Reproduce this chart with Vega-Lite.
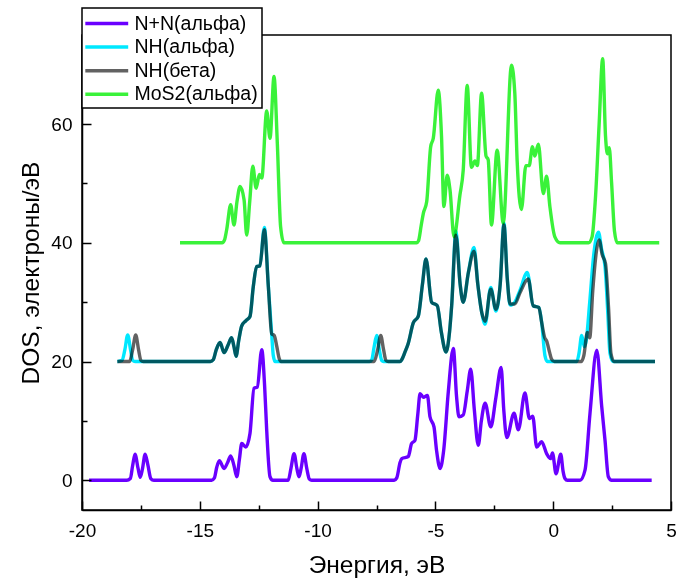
{
  "$schema": "https://vega.github.io/schema/vega-lite/v6.json",
  "width": 589,
  "height": 475,
  "autosize": {"type": "none"},
  "padding": {"left": 82, "top": 35, "right": 11, "bottom": 72},
  "background": "white",
  "config": {
    "view": {"stroke": "black", "strokeWidth": 1.5},
    "font": "Liberation Sans",
    "legend": {"strokeWidth": 1.5},
    "axis": {"domainColor": "black", "domainWidth": 1.5, "tickColor": "black", "tickWidth": 1.5, "grid": false, "labelFont": "Liberation Sans", "titleFont": "Liberation Sans", "labelColor": "black", "titleColor": "black", "titleFontWeight": "normal"}
  },
  "datasets": {
    "dos": [
      {"s":"N+N(альфа)","x":-19.7,"y":0},{"s":"N+N(альфа)","x":-18.1,"y":0},{"s":"N+N(альфа)","x":-17.95,"y":0.3},{"s":"N+N(альфа)","x":-17.85,"y":2.5},{"s":"N+N(альфа)","x":-17.75,"y":4.4},{"s":"N+N(альфа)","x":-17.62,"y":2.0},{"s":"N+N(альфа)","x":-17.53,"y":0.5},{"s":"N+N(альфа)","x":-17.43,"y":2.0},{"s":"N+N(альфа)","x":-17.32,"y":4.4},{"s":"N+N(альфа)","x":-17.2,"y":2.5},{"s":"N+N(альфа)","x":-17.08,"y":0.3},{"s":"N+N(альфа)","x":-16.95,"y":0},
      {"s":"N+N(альфа)","x":-14.5,"y":0},{"s":"N+N(альфа)","x":-14.38,"y":0.4},{"s":"N+N(альфа)","x":-14.28,"y":2.2},{"s":"N+N(альфа)","x":-14.17,"y":3.3},{"s":"N+N(альфа)","x":-13.97,"y":2.0},{"s":"N+N(альфа)","x":-13.82,"y":3.0},{"s":"N+N(альфа)","x":-13.69,"y":4.1},{"s":"N+N(альфа)","x":-13.55,"y":2.5},{"s":"N+N(альфа)","x":-13.43,"y":0.6},{"s":"N+N(альфа)","x":-13.32,"y":3.5},{"s":"N+N(альфа)","x":-13.22,"y":6.2},{"s":"N+N(альфа)","x":-13.05,"y":5.6},{"s":"N+N(альфа)","x":-12.87,"y":7.9},{"s":"N+N(альфа)","x":-12.7,"y":15.5},{"s":"N+N(альфа)","x":-12.56,"y":15.7},{"s":"N+N(альфа)","x":-12.37,"y":22.0},{"s":"N+N(альфа)","x":-12.25,"y":16},{"s":"N+N(альфа)","x":-12.16,"y":8.4},{"s":"N+N(альфа)","x":-12.02,"y":0.6},{"s":"N+N(альфа)","x":-11.9,"y":0},
      {"s":"N+N(альфа)","x":-11.25,"y":0},{"s":"N+N(альфа)","x":-11.13,"y":2.0},{"s":"N+N(альфа)","x":-11.0,"y":4.5},{"s":"N+N(альфа)","x":-10.88,"y":2.0},{"s":"N+N(альфа)","x":-10.79,"y":0.6},{"s":"N+N(альфа)","x":-10.7,"y":2.0},{"s":"N+N(альфа)","x":-10.58,"y":4.5},{"s":"N+N(альфа)","x":-10.46,"y":2.0},{"s":"N+N(альфа)","x":-10.35,"y":0.2},{"s":"N+N(альфа)","x":-10.25,"y":0},
      {"s":"N+N(альфа)","x":-6.75,"y":0},{"s":"N+N(альфа)","x":-6.64,"y":0.4},{"s":"N+N(альфа)","x":-6.5,"y":3.0},{"s":"N+N(альфа)","x":-6.43,"y":3.65},{"s":"N+N(альфа)","x":-6.15,"y":4.0},{"s":"N+N(альфа)","x":-6.01,"y":6.2},{"s":"N+N(альфа)","x":-5.87,"y":6.7},{"s":"N+N(альфа)","x":-5.75,"y":11},{"s":"N+N(альфа)","x":-5.65,"y":14.6},{"s":"N+N(альфа)","x":-5.51,"y":14.0},{"s":"N+N(альфа)","x":-5.34,"y":14.3},{"s":"N+N(альфа)","x":-5.23,"y":10.7},{"s":"N+N(альфа)","x":-5.06,"y":9.0},{"s":"N+N(альфа)","x":-4.95,"y":5},{"s":"N+N(альфа)","x":-4.8,"y":2.0},{"s":"N+N(альфа)","x":-4.65,"y":5},{"s":"N+N(альфа)","x":-4.45,"y":15},{"s":"N+N(альфа)","x":-4.24,"y":22.2},{"s":"N+N(альфа)","x":-4.1,"y":14},{"s":"N+N(альфа)","x":-4.0,"y":10.7},{"s":"N+N(альфа)","x":-3.82,"y":11.0},{"s":"N+N(альфа)","x":-3.65,"y":15},{"s":"N+N(альфа)","x":-3.5,"y":18.7},{"s":"N+N(альфа)","x":-3.35,"y":12},{"s":"N+N(альфа)","x":-3.18,"y":5.9},{"s":"N+N(альфа)","x":-3.05,"y":10},{"s":"N+N(альфа)","x":-2.89,"y":13.0},{"s":"N+N(альфа)","x":-2.65,"y":9.0},{"s":"N+N(альфа)","x":-2.43,"y":14.0},{"s":"N+N(альфа)","x":-2.21,"y":19.0},{"s":"N+N(альфа)","x":-2.1,"y":12},{"s":"N+N(альфа)","x":-1.97,"y":7.2},{"s":"N+N(альфа)","x":-1.66,"y":11.3},{"s":"N+N(альфа)","x":-1.48,"y":8.5},{"s":"N+N(альфа)","x":-1.2,"y":14.7},{"s":"N+N(альфа)","x":-1.01,"y":10.4},{"s":"N+N(альфа)","x":-0.87,"y":10.8},{"s":"N+N(альфа)","x":-0.7,"y":5.6},{"s":"N+N(альфа)","x":-0.49,"y":6.5},{"s":"N+N(альфа)","x":-0.28,"y":4.5},{"s":"N+N(альфа)","x":-0.11,"y":3.65},{"s":"N+N(альфа)","x":-0.03,"y":4.6},{"s":"N+N(альфа)","x":0.12,"y":1.1},{"s":"N+N(альфа)","x":0.32,"y":4.4},{"s":"N+N(альфа)","x":0.42,"y":1.5},{"s":"N+N(альфа)","x":0.5,"y":0.3},{"s":"N+N(альфа)","x":0.6,"y":0},
      {"s":"N+N(альфа)","x":1.14,"y":0},{"s":"N+N(альфа)","x":1.35,"y":1.7},{"s":"N+N(альфа)","x":1.56,"y":11.2},{"s":"N+N(альфа)","x":1.85,"y":21.9},{"s":"N+N(альфа)","x":2.06,"y":12.4},{"s":"N+N(альфа)","x":2.2,"y":6.7},{"s":"N+N(альфа)","x":2.34,"y":0.6},{"s":"N+N(альфа)","x":2.48,"y":0},{"s":"N+N(альфа)","x":4.18,"y":0},

      {"s":"NH(альфа)","x":-18.5,"y":20},{"s":"NH(альфа)","x":-18.3,"y":20.2},{"s":"NH(альфа)","x":-18.18,"y":22},{"s":"NH(альфа)","x":-18.06,"y":24.5},{"s":"NH(альфа)","x":-17.94,"y":22},{"s":"NH(альфа)","x":-17.85,"y":20.2},{"s":"NH(альфа)","x":-17.75,"y":20},
      {"s":"NH(альфа)","x":-14.55,"y":20},{"s":"NH(альфа)","x":-14.43,"y":20.3},{"s":"NH(альфа)","x":-14.3,"y":22},{"s":"NH(альфа)","x":-14.14,"y":23.2},{"s":"NH(альфа)","x":-13.97,"y":21.5},{"s":"NH(альфа)","x":-13.8,"y":22.8},{"s":"NH(альфа)","x":-13.65,"y":24.0},{"s":"NH(альфа)","x":-13.55,"y":22.5},{"s":"NH(альфа)","x":-13.46,"y":20.9},{"s":"NH(альфа)","x":-13.35,"y":23.5},{"s":"NH(альфа)","x":-13.22,"y":26.0},{"s":"NH(альфа)","x":-13.04,"y":26.9},{"s":"NH(альфа)","x":-12.87,"y":27.6},{"s":"NH(альфа)","x":-12.73,"y":32.6},{"s":"NH(альфа)","x":-12.59,"y":36.0},{"s":"NH(альфа)","x":-12.45,"y":36.1},{"s":"NH(альфа)","x":-12.26,"y":42.6},{"s":"NH(альфа)","x":-12.09,"y":32.6},{"s":"NH(альфа)","x":-11.95,"y":24.7},{"s":"NH(альфа)","x":-11.88,"y":21},{"s":"NH(альфа)","x":-11.8,"y":20},
      {"s":"NH(альфа)","x":-7.8,"y":20},{"s":"NH(альфа)","x":-7.7,"y":20.3},{"s":"NH(альфа)","x":-7.6,"y":22.5},{"s":"NH(альфа)","x":-7.49,"y":24.4},{"s":"NH(альфа)","x":-7.38,"y":22},{"s":"NH(альфа)","x":-7.28,"y":20.2},{"s":"NH(альфа)","x":-7.2,"y":20},
      {"s":"NH(альфа)","x":-6.5,"y":20},{"s":"NH(альфа)","x":-6.43,"y":20.3},{"s":"NH(альфа)","x":-6.3,"y":21.5},{"s":"NH(альфа)","x":-6.15,"y":23.1},{"s":"NH(альфа)","x":-5.94,"y":26.5},{"s":"NH(альфа)","x":-5.73,"y":27.6},{"s":"NH(альфа)","x":-5.55,"y":33},{"s":"NH(альфа)","x":-5.4,"y":37.3},{"s":"NH(альфа)","x":-5.16,"y":30.0},{"s":"NH(альфа)","x":-4.92,"y":29.4},{"s":"NH(альфа)","x":-4.75,"y":25},{"s":"NH(альфа)","x":-4.55,"y":21.6},{"s":"NH(альфа)","x":-4.4,"y":25},{"s":"NH(альфа)","x":-4.31,"y":29.4},{"s":"NH(альфа)","x":-4.13,"y":42.0},{"s":"NH(альфа)","x":-3.95,"y":33},{"s":"NH(альфа)","x":-3.82,"y":30.0},{"s":"NH(альфа)","x":-3.6,"y":35},{"s":"NH(альфа)","x":-3.36,"y":39.2},{"s":"NH(альфа)","x":-3.2,"y":33},{"s":"NH(альфа)","x":-3.03,"y":28.2},{"s":"NH(альфа)","x":-2.89,"y":26.3},{"s":"NH(альфа)","x":-2.65,"y":32.5},{"s":"NH(альфа)","x":-2.43,"y":28.5},{"s":"NH(альфа)","x":-2.25,"y":33},{"s":"NH(альфа)","x":-2.09,"y":43.3},{"s":"NH(альфа)","x":-1.95,"y":34},{"s":"NH(альфа)","x":-1.83,"y":29.5},{"s":"NH(альфа)","x":-1.63,"y":30.0},{"s":"NH(альфа)","x":-1.41,"y":32},{"s":"NH(альфа)","x":-1.1,"y":35},{"s":"NH(альфа)","x":-0.85,"y":29.4},{"s":"NH(альфа)","x":-0.61,"y":29.1},{"s":"NH(альфа)","x":-0.49,"y":26.6},{"s":"NH(альфа)","x":-0.35,"y":21},{"s":"NH(альфа)","x":-0.25,"y":20},
      {"s":"NH(альфа)","x":1.0,"y":20},{"s":"NH(альфа)","x":1.1,"y":21.5},{"s":"NH(альфа)","x":1.21,"y":24.4},{"s":"NH(альфа)","x":1.32,"y":22.5},{"s":"NH(альфа)","x":1.4,"y":23.5},{"s":"NH(альфа)","x":1.55,"y":30},{"s":"NH(альфа)","x":1.72,"y":38},{"s":"NH(альфа)","x":1.92,"y":41.8},{"s":"NH(альфа)","x":2.05,"y":39},{"s":"NH(альфа)","x":2.2,"y":36},{"s":"NH(альфа)","x":2.32,"y":28},{"s":"NH(альфа)","x":2.41,"y":21.4},{"s":"NH(альфа)","x":2.54,"y":20},{"s":"NH(альфа)","x":4.32,"y":20},

      {"s":"NH(бета)","x":-18.5,"y":20},{"s":"NH(бета)","x":-17.98,"y":20},{"s":"NH(бета)","x":-17.85,"y":22},{"s":"NH(бета)","x":-17.72,"y":24.5},{"s":"NH(бета)","x":-17.6,"y":22},{"s":"NH(бета)","x":-17.5,"y":20.2},{"s":"NH(бета)","x":-17.4,"y":20},
      {"s":"NH(бета)","x":-14.55,"y":20},{"s":"NH(бета)","x":-14.43,"y":20.3},{"s":"NH(бета)","x":-14.3,"y":22},{"s":"NH(бета)","x":-14.14,"y":23.2},{"s":"NH(бета)","x":-13.97,"y":21.5},{"s":"NH(бета)","x":-13.8,"y":22.8},{"s":"NH(бета)","x":-13.65,"y":24.0},{"s":"NH(бета)","x":-13.55,"y":22.5},{"s":"NH(бета)","x":-13.46,"y":20.9},{"s":"NH(бета)","x":-13.35,"y":23.5},{"s":"NH(бета)","x":-13.22,"y":26.0},{"s":"NH(бета)","x":-13.04,"y":26.9},{"s":"NH(бета)","x":-12.87,"y":27.6},{"s":"NH(бета)","x":-12.73,"y":32.6},{"s":"NH(бета)","x":-12.59,"y":36.0},{"s":"NH(бета)","x":-12.45,"y":36.1},{"s":"NH(бета)","x":-12.26,"y":42.2},{"s":"NH(бета)","x":-12.09,"y":32.6},{"s":"NH(бета)","x":-11.95,"y":24.7},{"s":"NH(бета)","x":-11.84,"y":24.4},{"s":"NH(бета)","x":-11.73,"y":22.5},{"s":"NH(бета)","x":-11.63,"y":20.5},{"s":"NH(бета)","x":-11.55,"y":20},
      {"s":"NH(бета)","x":-7.6,"y":20},{"s":"NH(бета)","x":-7.45,"y":22},{"s":"NH(бета)","x":-7.32,"y":24.4},{"s":"NH(бета)","x":-7.2,"y":22},{"s":"NH(бета)","x":-7.1,"y":20.2},{"s":"NH(бета)","x":-7.0,"y":20},
      {"s":"NH(бета)","x":-6.5,"y":20},{"s":"NH(бета)","x":-6.43,"y":20.3},{"s":"NH(бета)","x":-6.3,"y":21.5},{"s":"NH(бета)","x":-6.15,"y":23.1},{"s":"NH(бета)","x":-5.94,"y":26.5},{"s":"NH(бета)","x":-5.73,"y":27.6},{"s":"NH(бета)","x":-5.55,"y":33},{"s":"NH(бета)","x":-5.4,"y":37.3},{"s":"NH(бета)","x":-5.16,"y":30.0},{"s":"NH(бета)","x":-4.92,"y":29.4},{"s":"NH(бета)","x":-4.75,"y":25},{"s":"NH(бета)","x":-4.55,"y":21.6},{"s":"NH(бета)","x":-4.4,"y":25},{"s":"NH(бета)","x":-4.31,"y":29.4},{"s":"NH(бета)","x":-4.13,"y":41.3},{"s":"NH(бета)","x":-3.95,"y":33},{"s":"NH(бета)","x":-3.82,"y":30.0},{"s":"NH(бета)","x":-3.6,"y":35},{"s":"NH(бета)","x":-3.36,"y":38.6},{"s":"NH(бета)","x":-3.2,"y":33},{"s":"NH(бета)","x":-3.03,"y":28.2},{"s":"NH(бета)","x":-2.89,"y":26.8},{"s":"NH(бета)","x":-2.65,"y":32.2},{"s":"NH(бета)","x":-2.43,"y":28.8},{"s":"NH(бета)","x":-2.25,"y":33},{"s":"NH(бета)","x":-2.09,"y":43.0},{"s":"NH(бета)","x":-1.95,"y":34},{"s":"NH(бета)","x":-1.83,"y":29.7},{"s":"NH(бета)","x":-1.63,"y":29.7},{"s":"NH(бета)","x":-1.41,"y":31.6},{"s":"NH(бета)","x":-1.06,"y":33.9},{"s":"NH(бета)","x":-0.85,"y":29.4},{"s":"NH(бета)","x":-0.61,"y":29.1},{"s":"NH(бета)","x":-0.49,"y":26.6},{"s":"NH(бета)","x":-0.36,"y":24},{"s":"NH(бета)","x":-0.28,"y":23.5},{"s":"NH(бета)","x":-0.15,"y":21.5},{"s":"NH(бета)","x":-0.07,"y":20.4},{"s":"NH(бета)","x":0.05,"y":20},
      {"s":"NH(бета)","x":1.2,"y":20},{"s":"NH(бета)","x":1.3,"y":21},{"s":"NH(бета)","x":1.45,"y":24.9},{"s":"NH(бета)","x":1.55,"y":24},{"s":"NH(бета)","x":1.68,"y":32},{"s":"NH(бета)","x":1.95,"y":40.5},{"s":"NH(бета)","x":2.08,"y":38},{"s":"NH(бета)","x":2.22,"y":36.5},{"s":"NH(бета)","x":2.35,"y":29},{"s":"NH(бета)","x":2.45,"y":21.4},{"s":"NH(бета)","x":2.58,"y":20},{"s":"NH(бета)","x":4.32,"y":20},

      {"s":"MoS2(альфа)","x":-15.84,"y":40},{"s":"MoS2(альфа)","x":-14.05,"y":40},{"s":"MoS2(альфа)","x":-13.95,"y":40.5},{"s":"MoS2(альфа)","x":-13.86,"y":42.2},{"s":"MoS2(альфа)","x":-13.69,"y":46.4},{"s":"MoS2(альфа)","x":-13.55,"y":43.0},{"s":"MoS2(альфа)","x":-13.42,"y":47},{"s":"MoS2(альфа)","x":-13.29,"y":49.5},{"s":"MoS2(альфа)","x":-13.12,"y":47.2},{"s":"MoS2(альфа)","x":-13.01,"y":41.3},{"s":"MoS2(альфа)","x":-12.88,"y":47},{"s":"MoS2(альфа)","x":-12.75,"y":52.9},{"s":"MoS2(альфа)","x":-12.61,"y":49.2},{"s":"MoS2(альфа)","x":-12.47,"y":51.5},{"s":"MoS2(альфа)","x":-12.37,"y":50.9},{"s":"MoS2(альфа)","x":-12.16,"y":62.2},{"s":"MoS2(альфа)","x":-12.02,"y":57.6},{"s":"MoS2(альфа)","x":-11.85,"y":68.0},{"s":"MoS2(альфа)","x":-11.71,"y":56.8},{"s":"MoS2(альфа)","x":-11.57,"y":42.7},{"s":"MoS2(альфа)","x":-11.43,"y":40},
      {"s":"MoS2(альфа)","x":-5.8,"y":40},{"s":"MoS2(альфа)","x":-5.72,"y":40.3},{"s":"MoS2(альфа)","x":-5.6,"y":43},{"s":"MoS2(альфа)","x":-5.51,"y":45.0},{"s":"MoS2(альфа)","x":-5.37,"y":46.9},{"s":"MoS2(альфа)","x":-5.2,"y":56.2},{"s":"MoS2(альфа)","x":-5.09,"y":57.6},{"s":"MoS2(альфа)","x":-4.88,"y":65.7},{"s":"MoS2(альфа)","x":-4.74,"y":57.9},{"s":"MoS2(альфа)","x":-4.64,"y":46.1},{"s":"MoS2(альфа)","x":-4.5,"y":51.4},{"s":"MoS2(альфа)","x":-4.38,"y":48.9},{"s":"MoS2(альфа)","x":-4.21,"y":41.0},{"s":"MoS2(альфа)","x":-3.96,"y":48.0},{"s":"MoS2(альфа)","x":-3.82,"y":52.2},{"s":"MoS2(альфа)","x":-3.65,"y":66.5},{"s":"MoS2(альфа)","x":-3.47,"y":52.7},{"s":"MoS2(альфа)","x":-3.32,"y":53.8},{"s":"MoS2(альфа)","x":-3.22,"y":53.0},{"s":"MoS2(альфа)","x":-3.04,"y":65.2},{"s":"MoS2(альфа)","x":-2.85,"y":54.6},{"s":"MoS2(альфа)","x":-2.76,"y":54},{"s":"MoS2(альфа)","x":-2.62,"y":43.0},{"s":"MoS2(альфа)","x":-2.38,"y":55.6},{"s":"MoS2(альфа)","x":-2.12,"y":43.3},{"s":"MoS2(альфа)","x":-1.77,"y":69.9},{"s":"MoS2(альфа)","x":-1.63,"y":65.2},{"s":"MoS2(альфа)","x":-1.53,"y":53.8},{"s":"MoS2(альфа)","x":-1.35,"y":45.6},{"s":"MoS2(альфа)","x":-1.16,"y":53.0},{"s":"MoS2(альфа)","x":-1.02,"y":53.0},{"s":"MoS2(альфа)","x":-0.88,"y":56.2},{"s":"MoS2(альфа)","x":-0.78,"y":54.6},{"s":"MoS2(альфа)","x":-0.63,"y":56.6},{"s":"MoS2(альфа)","x":-0.42,"y":48.3},{"s":"MoS2(альфа)","x":-0.28,"y":51.2},{"s":"MoS2(альфа)","x":-0.14,"y":46.1},{"s":"MoS2(альфа)","x":0.07,"y":41.0},{"s":"MoS2(альфа)","x":0.29,"y":40},
      {"s":"MoS2(альфа)","x":1.5,"y":40},{"s":"MoS2(альфа)","x":1.65,"y":41},{"s":"MoS2(альфа)","x":1.8,"y":48},{"s":"MoS2(альфа)","x":1.95,"y":60},{"s":"MoS2(альфа)","x":2.1,"y":71},{"s":"MoS2(альфа)","x":2.22,"y":58},{"s":"MoS2(альфа)","x":2.3,"y":55},{"s":"MoS2(альфа)","x":2.38,"y":56},{"s":"MoS2(альфа)","x":2.48,"y":50},{"s":"MoS2(альфа)","x":2.6,"y":42},{"s":"MoS2(альфа)","x":2.72,"y":40},{"s":"MoS2(альфа)","x":4.5,"y":40}
    ]
  },
  "data": {"name": "dos"},
  "resolve": {"axis": {"x": "independent", "y": "independent"}},
  "layer": [
    {
      "transform": [{"filter": "datum.s === 'N+N(альфа)'"}],
      "mark": {"type": "line", "strokeWidth": 3.4, "interpolate": "monotone", "blend": "multiply"},
      "encoding": {
        "x": {"field": "x", "type": "quantitative", "scale": {"domain": [-20, 5], "nice": false, "zero": false},
          "axis": {"orient": "bottom", "values": [-20, -15, -10, -5, 0, 5], "ticks": false, "labelPadding": 11, "labelFontSize": 19, "labelFlush": false, "labelExpr": "'' + datum.value", "title": "Энергия, эВ", "titleFontSize": 24.5, "titlePadding": 13}},
        "y": {"field": "y", "type": "quantitative", "scale": {"domain": [-5, 75], "nice": false, "zero": false},
          "axis": {"orient": "left", "values": [0, 20, 40, 60], "ticks": false, "labelPadding": 10, "labelFontSize": 19, "title": "DOS, электроны/эВ", "titleFontSize": 24.5, "titlePadding": 7}},
        "color": {"field": "s", "type": "nominal",
          "scale": {"domain": ["N+N(альфа)", "NH(альфа)", "NH(бета)", "MoS2(альфа)"], "range": ["#6a00ff", "#00e8ff", "#626262", "#3af23a"]},
          "legend": {"title": null, "orient": "none", "legendX": 0, "legendY": -27, "symbolType": "M-1.25,0H3.15", "symbolSize": 380, "symbolStrokeWidth": 3.5, "labelFontSize": 19.5, "labelFont": "Liberation Sans", "labelColor": "black", "labelOffset": 25.5, "rowPadding": 2.6, "padding": 4, "strokeColor": "black", "fillColor": "white", "labelLimit": 300}}
      }
    },
    {
      "transform": [{"filter": "datum.s === 'NH(альфа)' || datum.s === 'NH(бета)'"}],
      "mark": {"type": "line", "strokeWidth": 3.4, "interpolate": "monotone", "blend": "multiply"},
      "encoding": {
        "x": {"field": "x", "type": "quantitative", "scale": {"domain": [-20, 5], "nice": false, "zero": false},
          "axis": {"orient": "top", "offset": -475, "values": [-20, -15, -10, -5, 0, 5], "tickSize": 9, "labels": false, "domain": false, "title": null}},
        "y": {"field": "y", "type": "quantitative", "scale": {"domain": [-5, 75], "nice": false, "zero": false},
          "axis": {"orient": "right", "offset": -589, "values": [0, 20, 40, 60], "tickSize": 9, "labels": false, "domain": false, "title": null}},
        "color": {"field": "s", "type": "nominal"}
      }
    },
    {
      "transform": [{"filter": "datum.s === 'MoS2(альфа)'"}],
      "mark": {"type": "line", "strokeWidth": 3.4, "interpolate": "monotone", "blend": "multiply"},
      "encoding": {
        "x": {"field": "x", "type": "quantitative", "scale": {"domain": [-20, 5], "nice": false, "zero": false},
          "axis": {"orient": "top", "offset": -475, "values": [-17.5, -12.5, -7.5, -2.5, 2.5], "tickSize": 5, "labels": false, "domain": false, "title": null}},
        "y": {"field": "y", "type": "quantitative", "scale": {"domain": [-5, 75], "nice": false, "zero": false},
          "axis": {"orient": "right", "offset": -589, "values": [10, 30, 50, 70], "tickSize": 5, "labels": false, "domain": false, "title": null}},
        "color": {"field": "s", "type": "nominal"}
      }
    }
  ]
}
